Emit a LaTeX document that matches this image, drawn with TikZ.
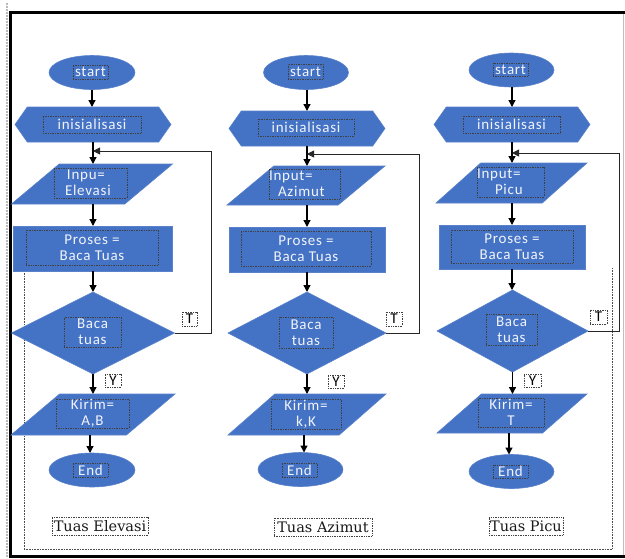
\documentclass[tikz,border=0pt]{standalone}
\usepackage{fontspec}
\setmainfont{Carlito}
\newfontfamily\wordfont[LetterSpace=5]{Carlito}
\newfontfamily\capfont{DejaVu Serif}
\usetikzlibrary{shapes.geometric,shapes.symbols,arrows.meta,calc}
\definecolor{fblue}{HTML}{4472C4}
\definecolor{ledge}{HTML}{5A82CA}
\definecolor{wtext}{HTML}{F2F4FA}
\tikzset{
  flow/.style={fill=fblue, draw=ledge, line width=0.6pt, inner sep=1pt, outer sep=0pt},
  term/.style={flow, ellipse, minimum width=86pt, minimum height=34pt},
  prep/.style={flow, signal, signal to=west and east, signal pointer angle=110, minimum width=156pt, minimum height=35pt},
  io/.style={flow, trapezium, trapezium left angle=54, trapezium right angle=126, trapezium stretches=true},
  proc/.style={flow, rectangle, minimum height=45pt},
  dec/.style={flow, diamond, minimum height=82pt},
  tbox/.style={preaction={draw=white!80!gray, line width=0.7pt}, draw=black!75, densely dotted, line width=0.7pt, inner sep=0pt, text=wtext, align=center, font=\wordfont\fontsize{15}{16}\selectfont},
  lbl/.style={tbox, text=black},
  captionbox/.style={preaction={draw=white!80!gray, line width=0.7pt}, draw=black!75, densely dotted, line width=0.7pt, inner sep=0pt, text=black!90, font=\capfont\fontsize{14.5}{16}\selectfont},
  arr/.style={-{Triangle[width=7pt,length=7pt]}, line width=1.3pt, black},
  back/.style={-{Triangle[width=7pt,length=7pt]}, line width=0.8pt, black!85},
}
\begin{document}
\begin{tikzpicture}[x=1pt,y=-1pt]
\useasboundingbox (0,0) rectangle (625,558);
% page frame
\draw[gray!55, densely dotted, line width=2pt] (7,3) -- (7,558);
\draw[gray!50, line width=1pt] (623.5,14) -- (623.5,555);
\draw[line width=3pt] (10.5,558) -- (10.5,12.5) -- (625,12.5);
\draw[line width=3pt] (9,556.5) -- (625,556.5);
\draw[densely dotted, black!70, line width=0.6pt] (24,268) -- (24,549.5) -- (612,549.5) -- (612,268);

% ---------- column 1 ----------
\node[term] (s1) at (92,72.5) {};
\node[prep] (h1) at (93,124.5) {};
\node[io, minimum width=161pt, minimum height=40pt] (p1) at (92,184) {};
\node[proc, minimum width=159pt] (r1) at (93,248.5) {};
\node[dec, minimum width=163pt] (d1) at (93,333) {};
\node[io, minimum width=164pt, minimum height=41pt] (k1) at (93,414.5) {};
\node[term] (e1) at (92,470) {};
\node[tbox, minimum width=35pt, minimum height=14pt] (ts1) at (90.5,72) {start};
\node[tbox, minimum width=98pt, minimum height=17pt] (th1) at (92,124.5) {inisialisasi};
\node[tbox, minimum width=73pt, minimum height=30pt, text width=73pt, align=left] (tp1) at (90.5,183) {\hspace*{13pt}Inpu=\\\hspace*{11pt}Elevasi};
\node[tbox, minimum width=132pt, minimum height=35pt] (tr1) at (92,247.5) {Proses =\\Baca Tuas};
\node[tbox, minimum width=57pt, minimum height=30pt] (td1) at (92.5,332) {Baca\\tuas};
\node[tbox, minimum width=73pt, minimum height=29pt] (tk1) at (92.5,413.5) {Kirim=\\A,B};
\node[tbox, minimum width=35pt, minimum height=14pt] (te1) at (90.5,470) {End};
\node[lbl, minimum width=15pt, minimum height=14pt] (T1) at (189.5,319) {T};
\node[lbl, minimum width=16pt, minimum height=13pt] (Y1) at (113,380.5) {Y};
\node[captionbox, minimum width=96pt, minimum height=18pt] (c1) at (100,526) {Tuas Elevasi};
\coordinate (j1) at (93,151);
\coordinate (m1) at (211,151);
\draw[arr] (s1.south) -- (s1.south |- h1.north);
\draw[arr] (h1.south) -- (h1.south |- p1.north);
\draw[arr] (p1.south -| r1.north) -- (r1.north);
\draw[arr] (r1.south) -- (d1.north);
\draw[arr] (d1.south) -- (d1.south |- k1.north);
\draw[arr] (k1.south -| 90,0) -- (e1.north -| 90,0);
\draw[back] (d1.east) -| (m1) -- (j1);

% ---------- column 2 ----------
\node[term, minimum width=85pt] (s2) at (306,72.5) {};
\node[prep] (h2) at (307,128.5) {};
\node[io, minimum width=158pt, minimum height=39pt] (p2) at (306,185.5) {};
\node[proc, minimum width=156pt] (r2) at (307,249.5) {};
\node[dec, minimum width=158pt] (d2) at (307,333) {};
\node[io, minimum width=158pt, minimum height=41pt] (k2) at (307,414.5) {};
\node[term, minimum width=85pt] (e2) at (300.5,469.5) {};
\node[tbox, minimum width=35pt, minimum height=15pt] (ts2) at (305.5,71.5) {start};
\node[tbox, minimum width=96pt, minimum height=17pt] (th2) at (306,127.5) {inisialisasi};
\node[tbox, minimum width=71pt, minimum height=30pt, text width=71pt, align=left] (tp2) at (304.5,184) {Input=\\\hspace*{9pt}Azimut};
\node[tbox, minimum width=130pt, minimum height=35pt] (tr2) at (306,248.5) {Proses =\\Baca Tuas};
\node[tbox, minimum width=54pt, minimum height=31pt] (td2) at (306,332.5) {Baca\\tuas};
\node[tbox, minimum width=70pt, minimum height=30pt] (tk2) at (306,414) {Kirim=\\k,K};
\node[tbox, minimum width=35pt, minimum height=14pt] (te2) at (299.5,470) {End};
\node[lbl, minimum width=16pt, minimum height=14pt] (T2) at (394,319) {T};
\node[lbl, minimum width=16pt, minimum height=13pt] (Y2) at (336,381.5) {Y};
\node[captionbox, minimum width=98pt, minimum height=18pt] (c2) at (323,527) {Tuas Azimut};
\coordinate (j2) at (307,154);
\coordinate (m2) at (419,154);
\draw[arr] (s2.south -| h2.north) -- (h2.north);
\draw[arr] (h2.south) -- (h2.south |- p2.north);
\draw[arr] (p2.south -| r2.north) -- (r2.north);
\draw[arr] (r2.south) -- (d2.north);
\draw[arr] (d2.south) -- (d2.south |- k2.north);
\draw[arr] (k2.south -| 304,0) -- (e2.north -| 304,0);
\draw[back] (d2.east) -| (m2) -- (j2);

% ---------- column 3 ----------
\node[term, minimum width=85pt] (s3) at (511.5,70) {};
\node[prep] (h3) at (512,124.5) {};
\node[io, minimum width=151pt, minimum height=40pt] (p3) at (511.5,183) {};
\node[proc, minimum width=146pt, minimum height=44pt] (r3) at (512,247) {};
\node[dec, minimum width=151pt] (d3) at (512.5,331) {};
\node[io, minimum width=150pt, minimum height=39pt] (k3) at (512,413.5) {};
\node[term, minimum width=85pt] (e3) at (511.5,471.5) {};
\node[tbox, minimum width=35pt, minimum height=13pt] (ts3) at (510.5,69.5) {start};
\node[tbox, minimum width=97pt, minimum height=17pt] (th3) at (511.5,124.5) {inisialisasi};
\node[tbox, minimum width=67pt, minimum height=30pt, text width=67pt, align=left] (tp3) at (510.5,182) {Input=\\\hspace*{18pt}Picu};
\node[tbox, minimum width=122pt, minimum height=33pt] (tr3) at (512,246.5) {Proses =\\Baca Tuas};
\node[tbox, minimum width=51pt, minimum height=31pt] (td3) at (511.5,329.5) {Baca\\tuas};
\node[tbox, minimum width=66pt, minimum height=29pt] (tk3) at (511,412.5) {Kirim=\\T};
\node[tbox, minimum width=35pt, minimum height=13pt] (te3) at (510.5,471.5) {End};
\node[lbl, minimum width=17pt, minimum height=14pt] (T3) at (598.5,317) {T};
\node[lbl, minimum width=17pt, minimum height=13pt] (Y3) at (532.5,380.5) {Y};
\node[captionbox, minimum width=74pt, minimum height=18pt] (c3) at (526,526) {Tuas Picu};
\coordinate (j3) at (512,153);
\coordinate (m3) at (619,153);
\draw[arr] (s3.south -| h3.north) -- (h3.north);
\draw[arr] (h3.south) -- (h3.south |- p3.north);
\draw[arr] (p3.south -| r3.north) -- (r3.north);
\draw[arr] (r3.south) -- (r3.south |- d3.north);
\draw[arr] (d3.south) -- (d3.south |- k3.north);
\draw[arr] (k3.south -| 509,0) -- (e3.north -| 509,0);
\draw[back] (d3.east) -| (m3) -- (j3);
\end{tikzpicture}
\end{document}
